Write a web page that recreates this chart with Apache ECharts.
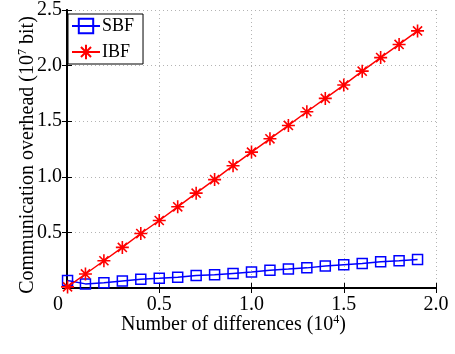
<!DOCTYPE html>
<html>
<head>
<meta charset="utf-8">
<script src="https://cdn.jsdelivr.net/npm/echarts@6/dist/echarts.min.js"></script>
<style>
  html, body { margin: 0; padding: 0; background: #fff; }
  #chart { width: 455px; height: 354px; }
</style>
</head>
<body>
<div id="chart"></div>
<script>
// Number of differences (x 10^4)
var diffs = [0.003, 0.1, 0.2, 0.3, 0.4, 0.5, 0.6, 0.7, 0.8, 0.9, 1.0,
             1.1, 1.2, 1.3, 1.4, 1.5, 1.6, 1.7, 1.8, 1.9];
// Communication overhead (x 10^7 bit)
var sbf = [0.068, 0.037, 0.047, 0.064, 0.079, 0.087, 0.096, 0.112, 0.119, 0.131, 0.143,
           0.160, 0.170, 0.181, 0.197, 0.209, 0.221, 0.235, 0.245, 0.257];
var ibf = [0.010, 0.126, 0.245, 0.365, 0.490, 0.607, 0.730, 0.853, 0.975, 1.100, 1.222,
           1.342, 1.462, 1.585, 1.705, 1.825, 1.950, 2.072, 2.190, 2.312];
var xTicks = [0, 0.5, 1.0, 1.5, 2.0];
var yTicks = [0, 0.5, 1.0, 1.5, 2.0, 2.5];

var FONT = '"Liberation Serif", "Times New Roman", serif';

function pairs(xs, ys) {
  return xs.map(function (x, i) { return [x, ys[i]]; });
}

// eight-arm asterisk marker
var STAR = 'path://M0,-10L0,10M-10,0L10,0M-7,-7L7,7M-7,7L7,-7';

var chart = echarts.init(document.getElementById('chart'), null, { renderer: 'canvas' });

var axisLineStyle = { lineStyle: { color: '#000', width: 2 } };
var tickIn = { show: true, inside: true, length: 5, lineStyle: { color: '#000', width: 1 } };
var titleRich = {
  t: { fontFamily: FONT, fontSize: 20, color: '#000', lineHeight: 22 },
  s: { fontFamily: FONT, fontSize: 12, color: '#000', verticalAlign: 'top', lineHeight: 12, padding: [0, 0, 12, 0] }
};

chart.setOption({
  backgroundColor: '#fff',
  animation: false,
  grid: { left: 67, right: 19, top: 10, bottom: 66, containLabel: false },
  legend: {
    left: 68, top: 14, orient: 'vertical',
    backgroundColor: '#fff', borderColor: '#000', borderWidth: 1, borderRadius: 0,
    padding: [3, 9, 3, 3], itemGap: 8, itemWidth: 28, itemHeight: 18,
    textStyle: { fontFamily: FONT, fontSize: 18, lineHeight: 18, color: '#000', padding: [0, 0, 0, -3] },
    data: ['SBF', 'IBF']
  },
  xAxis: [{
    type: 'value', min: xTicks[0], max: xTicks[xTicks.length - 1], interval: 0.5,
    position: 'bottom',
    name: '{t|Number of differences (10}{s|4}{t|)}', nameLocation: 'middle', nameGap: 26,
    nameMoveOverlap: false,
    nameTextStyle: { padding: [0, 36, 0, 0], rich: titleRich },
    axisLine: axisLineStyle, axisTick: tickIn,
    axisLabel: {
      fontFamily: FONT, fontSize: 20, color: '#000', margin: 7,
      formatter: function (v) { return v === 0 ? '{z|0}' : v.toFixed(1); },
      rich: { z: { fontFamily: FONT, fontSize: 20, color: '#000', padding: [0, 18, 0, 0] } }
    },
    splitLine: { show: true, lineStyle: { color: '#b4b4b4', type: [1, 3], width: 1 } }
  }, {
    type: 'value', min: 0, max: 2, interval: 0.5, position: 'top',
    axisLine: axisLineStyle, axisTick: tickIn, axisLabel: { show: false }, splitLine: { show: false }
  }],
  yAxis: [{
    type: 'value', min: yTicks[0], max: yTicks[yTicks.length - 1], interval: 0.5,
    position: 'left',
    name: '{t|Communication overhead (10}{s|7}{t| bit)}', nameLocation: 'middle', nameGap: 28,
    nameMoveOverlap: false,
    nameTextStyle: { padding: [0, 12, 0, 0], rich: titleRich },
    axisLine: axisLineStyle, axisTick: tickIn,
    axisLabel: {
      fontFamily: FONT, fontSize: 20, color: '#000', margin: 5,
      formatter: function (v) { return v === 0 ? '' : v.toFixed(1); }
    },
    splitLine: { show: true, lineStyle: { color: '#b4b4b4', type: [1, 3], width: 1 } }
  }, {
    type: 'value', min: 0, max: 2.5, interval: 0.5, position: 'right',
    axisLine: axisLineStyle, axisTick: tickIn, axisLabel: { show: false }, splitLine: { show: false }
  }],
  series: [{
    name: 'SBF', type: 'line', xAxisIndex: 0, yAxisIndex: 0,
    data: pairs(diffs, sbf),
    symbol: 'rect', symbolSize: 10,
    lineStyle: { color: '#0000ff', width: 1.5 },
    itemStyle: { color: 'rgba(255,255,255,0)', borderColor: '#0000ff', borderWidth: 1.5 },
    z: 3
  }, {
    name: 'IBF', type: 'line', xAxisIndex: 0, yAxisIndex: 0,
    data: pairs(diffs, ibf),
    symbol: STAR, symbolSize: 13,
    lineStyle: { color: '#ff0000', width: 1.5 },
    itemStyle: { color: 'rgba(255,0,0,0)', borderColor: '#ff0000', borderWidth: 1.6 },
    z: 4
  }]
});
</script>
</body>
</html>
